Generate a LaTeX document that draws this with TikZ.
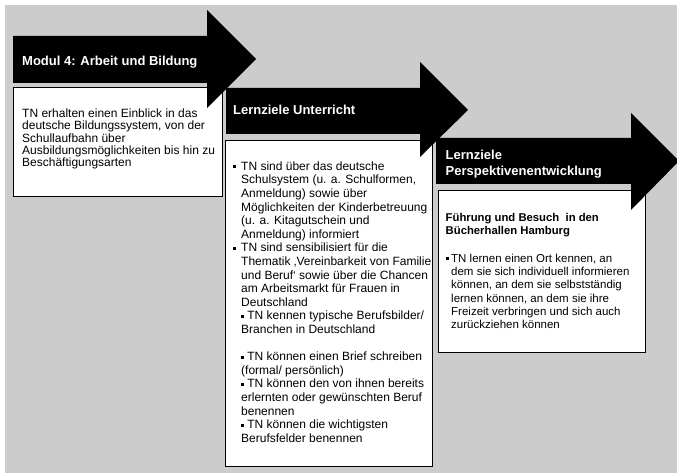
\documentclass[tikz,border=0pt]{standalone}
\usepackage{fontspec}
\setmainfont{Liberation Sans}
\definecolor{panelgray}{RGB}{204,204,204}
% small square bullet and a fixed-height strut for the first line of a text block
\newcommand\sqbul{\raisebox{1.8pt}{\rule{2.8pt}{2.8pt}}}
\newcommand\hstrut{\rule{0pt}{10pt}}
\tikzset{
  arrowshape/.style={fill=black, draw=none},
  boxshape/.style={fill=white, draw=black, line width=0.9pt},
  arrowtitle/.style={text=white, font=\fontsize{13}{15.3}\selectfont\bfseries,
    inner sep=0pt, align=left, anchor=base west},
  bodytext/.style={inner sep=0pt, align=left, anchor=north west},
  bullet/.style={inner sep=0pt, anchor=base west, font=\fontsize{12}{13.6}\selectfont},
}
\begin{document}
\begin{tikzpicture}[x=1pt,y=-1pt]
\useasboundingbox (0,0) rectangle (677,473);
\fill[panelgray] (5,5) rectangle (677,473);

% content boxes
\draw[boxshape] (13,87) rectangle (222,196);
\draw[boxshape] (225,140) rectangle (432,466);
\draw[boxshape] (438,190) rectangle (645,352);

% block arrows
\fill[arrowshape] (13,36) -- (207,36) -- (207,10) -- (256,59) -- (207,108) -- (207,83) -- (13,83) -- cycle;
\fill[arrowshape] (226,88) -- (420,88) -- (420,62) -- (468,110) -- (420,157) -- (420,134) -- (226,134) -- cycle;
\fill[arrowshape] (436,138) -- (631,138) -- (631,113) -- (679,161) -- (631,210) -- (631,184) -- (436,184) -- cycle;

% arrow titles
\node[arrowtitle] (t1) at (22,65.5) {Modul 4: Arbeit und Bildung};
\node[arrowtitle] (t2) at (233,115) {Lernziele Unterricht};
\node[arrowtitle, anchor=north west] (t3) at (445.5,148.5) {\rule{0pt}{11.3pt}Lernziele\\Perspektivenentwicklung};

% box 1 text
\node[bodytext, font=\fontsize{12}{12.2}\selectfont] (b1) at (22,107.5)
  {\hstrut TN erhalten einen Einblick in das\\
   deutsche Bildungssystem, von der\\
   Schullaufbahn über\\
   Ausbildungsmöglichkeiten bis hin zu\\
   Beschäftigungsarten};

% box 2 text
\node[bullet] (p1) at (233,170) {\sqbul};
\node[bullet] (p2) at (233,251.6) {\sqbul};
\node[bodytext, font=\fontsize{12}{13.6}\selectfont] (b2a) at (241,160)
  {\hstrut TN sind über das deutsche\\
   Schulsystem (u. a. Schulformen,\\
   Anmeldung) sowie über\\
   Möglichkeiten der Kinderbetreuung\\
   (u. a. Kitagutschein und\\
   Anmeldung) informiert\\
   TN sind sensibilisiert für die\\
   Thematik ‚Vereinbarkeit von Familie\\
   und Beruf‘ sowie über die Chancen\\
   am Arbeitsmarkt für Frauen in\\
   Deutschland};
\node[bodytext, font=\fontsize{12}{13.6}\selectfont] (b2b) at (241,309.6)
  {\hstrut\sqbul\ TN kennen typische Berufsbilder/\\
   Branchen in Deutschland\\[13.6pt]
   \sqbul\ TN können einen Brief schreiben\\
   (formal/ persönlich)\\
   \sqbul\ TN können den von ihnen bereits\\
   erlernten oder gewünschten Beruf\\
   benennen\\
   \sqbul\ TN können die wichtigsten\\
   Berufsfelder benennen};

% box 3 text
\node[bodytext, font=\fontsize{11.3}{13}\selectfont\bfseries] (b3h) at (445.5,211)
  {\hstrut Führung und Besuch\ \ in den\\
   Bücherhallen Hamburg};
\node[bullet, font=\fontsize{11.5}{13.3}\selectfont] (p3) at (445.5,262) {\sqbul};
\node[bodytext, font=\fontsize{11.5}{13.3}\selectfont] (b3) at (451,252)
  {\hstrut TN lernen einen Ort kennen, an\\
   dem sie sich individuell informieren\\
   können, an dem sie selbstständig\\
   lernen können, an dem sie ihre\\
   Freizeit verbringen und sich auch\\
   zurückziehen können};
\end{tikzpicture}
\end{document}
